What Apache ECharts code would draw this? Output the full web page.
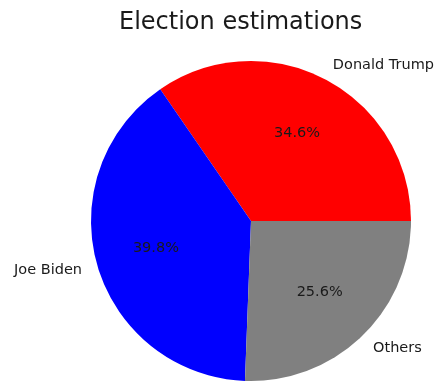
<!DOCTYPE html>
<html>
<head>
<meta charset="utf-8">
<script src="https://cdn.jsdelivr.net/npm/echarts@6/dist/echarts.min.js"></script>
<style>
  html, body { margin: 0; padding: 0; background: #fff; }
  #chart { width: 440px; height: 383px; }
</style>
</head>
<body>
<div id="chart"></div>
<script>
// Data
const candidates = ['Donald Trump', 'Joe Biden', 'Others'];
const shares = [34.6, 39.8, 25.6];
const sliceColors = ['#ff0000', '#0000ff', '#808080'];

const total = shares.reduce((a, b) => a + b, 0);
const fontFamily = "'DejaVu Sans', sans-serif";

const pieData = candidates.map((name, i) => ({
    name: name,
    value: shares[i],
    itemStyle: { color: sliceColors[i] }
}));

const chart = echarts.init(document.getElementById('chart'));

chart.setOption({
    animation: false,
    title: {
        text: 'Election estimations',
        left: 114,
        top: 6,
        textStyle: {
            fontFamily: fontFamily,
            fontSize: 24,
            fontWeight: 'normal',
            color: '#1a1a1a'
        }
    },
    series: [
        {
            // visible slices, names outside (like matplotlib labeldistance 1.1)
            type: 'pie',
            center: [251, 221],
            radius: 160,
            startAngle: 0,
            clockwise: false,
            avoidLabelOverlap: false,
            data: pieData,
            label: {
                show: true,
                position: 'outside',
                formatter: '{b}',
                fontFamily: fontFamily,
                fontSize: 14.5,
                color: '#1a1a1a',
                distanceToLabelLine: 0
            },
            labelLine: { show: false, length: 16, length2: 0 },
            emphasis: { disabled: true }
        },
        {
            // transparent ring only used to place the percent labels at 0.6 r
            type: 'pie',
            center: [251, 221],
            radius: [32, 160],
            startAngle: 0,
            clockwise: false,
            silent: true,
            avoidLabelOverlap: false,
            data: candidates.map((name, i) => ({ name: name, value: shares[i] })),
            itemStyle: { color: 'rgba(0,0,0,0)' },
            label: {
                show: true,
                position: 'inside',
                formatter: p => (p.value / total * 100).toFixed(1) + '%',
                fontFamily: fontFamily,
                fontSize: 14.5,
                color: '#1a1a1a'
            },
            labelLine: { show: false },
            emphasis: { disabled: true }
        }
    ]
});
</script>
</body>
</html>
